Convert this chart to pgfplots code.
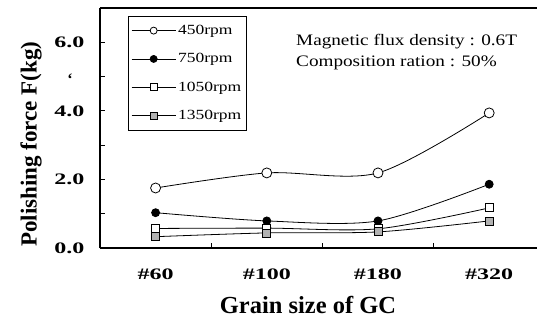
\documentclass[border=0pt]{standalone}
\usepackage{fontspec}
\setmainfont{Liberation Serif}
\newfontfamily\tickfont[FakeStretch=1.5]{Liberation Serif}
\newfontfamily\legfont[FakeStretch=1.25]{Liberation Serif}
\newfontfamily\notefont[FakeStretch=1.2]{Liberation Serif}
\usepackage{pgfplots}
\pgfplotsset{compat=1.18}
\begin{document}
\begin{tikzpicture}
\path[use as bounding box] (-100pt,-75pt) rectangle (437pt,248pt);
\begin{axis}[
  at={(0,0)}, anchor=south west, scale only axis,
  width=437pt, height=240pt,
  xmin=-0.5, xmax=3.43, ymin=0, ymax=7,
  axis x line*=box, axis y line*=left,
  axis line style={line width=1.3pt},
  tick pos=left, tick align=inside,
  major tick length=5pt, minor tick length=5pt,
  tick style={black, line width=0.8pt},
  xtick={0.5,1.5,2.5}, xticklabels={},
  extra x ticks={0,1,2,3},
  extra x tick labels={\#60,\#100,\#180,\#320},
  extra x tick style={major tick length=0pt,
    xticklabel style={anchor=center, yshift=-26pt}},
  xticklabel style={font=\tickfont\bfseries\fontsize{16}{16}\selectfont},
  ytick={0,2,4,6}, yticklabels={0.0,2.0,4.0,6.0},
  minor ytick={1,3,5},
  yticklabel style={font=\tickfont\bfseries\fontsize{16}{16}\selectfont, xshift=-12pt},
  ylabel={Polishing force F(kg)},
  ylabel style={font=\bfseries\fontsize{23}{23}\selectfont,
    at={(axis description cs:-0.158,0.433)}, anchor=center},
  xlabel={Grain size of GC},
  xlabel style={font=\bfseries\fontsize{24.5}{24.5}\selectfont,
    at={(axis description cs:0.476,-0.237)}, anchor=center},
  legend style={at={(axis description cs:0.064,0.967)}, anchor=north west,
    draw=black, line width=0.6pt, font=\legfont\fontsize{14}{14}\selectfont,
    row sep=13.5pt, inner xsep=3pt, inner ysep=7pt},
  legend cell align=left,
  legend image code/.code={\draw[mark repeat=2,mark phase=2,#1]
    plot coordinates {(0pt,0pt) (22pt,0pt) (44pt,0pt)};},
  legend image post style={mark size=3.5pt},
]
\addplot[black, line width=0.8pt, smooth, mark=*, mark size=5pt,
  mark options={fill=white, line width=0.8pt}]
  coordinates {(0,1.75) (1,2.19) (2,2.19) (3,3.94)};
\addlegendentry{450rpm}
\addplot[black, line width=0.8pt, smooth, mark=*, mark size=4pt,
  mark options={fill=black}]
  coordinates {(0,1.03) (1,0.79) (2,0.79) (3,1.86)};
\addlegendentry{750rpm}
\addplot[black, line width=0.8pt, smooth, mark=square*, mark size=4pt,
  mark options={fill=white, line width=0.8pt}]
  coordinates {(0,0.57) (1,0.58) (2,0.56) (3,1.17)};
\addlegendentry{1050rpm}
\addplot[black, line width=0.8pt, smooth, mark=square*, mark size=4pt,
  mark options={fill=gray!60, line width=0.8pt}]
  coordinates {(0,0.33) (1,0.44) (2,0.47) (3,0.79)};
\addlegendentry{1350rpm}
\end{axis}
\node[anchor=west, font=\notefont\fontsize{16}{16}\selectfont, inner sep=0pt] at (196pt,206pt) {Magnetic flux density : 0.6T};
\node[anchor=west, font=\notefont\fontsize{16}{16}\selectfont, inner sep=0pt] at (196pt,185pt) {Composition ration : 50\%};
\node[font=\bfseries\fontsize{16}{16}\selectfont] at (-30pt,169pt) {`};
\end{tikzpicture}
\end{document}
